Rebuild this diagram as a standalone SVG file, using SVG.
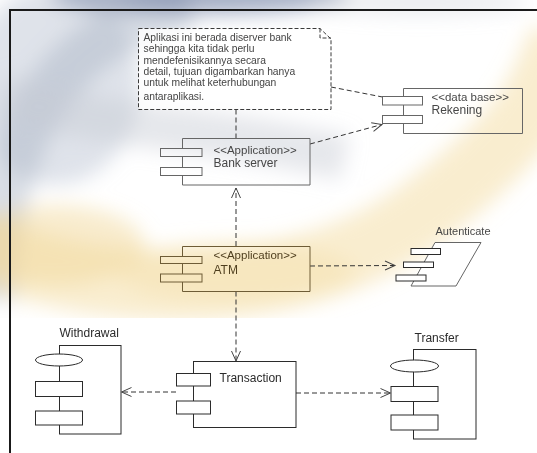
<svg xmlns="http://www.w3.org/2000/svg" width="537" height="453" viewBox="0 0 537 453">
  <defs>
    <style>
      text { font-family: "Liberation Sans", Arial, sans-serif; fill: #2b2b2b; }
      .note-text { font-size: 10.3px; fill: #444; }
      .stereo { font-size: 11.5px; }
      .name { font-size: 12px; }
      .edge { fill: none; stroke: #2b2b2b; stroke-width: 1; }
      .box { fill: #fff; stroke: #2b2b2b; stroke-width: 1; }
      .port { fill: #fff; stroke: #2b2b2b; stroke-width: 1; }
      .port-clear { fill: none; stroke: #2b2b2b; stroke-width: 1; }
      .note { fill: #fff; fill-opacity: 0.8; stroke: #3a3a3a; stroke-width: 1; stroke-dasharray: 4 2; }
      .dep { fill: none; stroke: #333; stroke-width: 1; stroke-dasharray: 5 3; }
      .frame { fill: none; stroke: #1a1a1a; stroke-width: 2; }
      .upper .edge, .upper .port-clear, .upper .box { stroke: #666; }
      .upper text { fill: #474747; }
      .gold .edge, .gold .port-clear { stroke: #6e5c36; }
      .gold text { fill: #4f3f1f; }
    </style>
    <marker id="open-arrow" markerUnits="userSpaceOnUse" markerWidth="12" markerHeight="11" refX="10" refY="5" orient="auto" overflow="visible">
      <path d="M0,0.5 L10,5 L0,9.5" fill="none" stroke="#444" stroke-width="1" stroke-dasharray="none"/>
    </marker>
    <clipPath id="wm-clip">
      <rect x="0" y="0" width="537" height="318"/>
    </clipPath>
    <filter id="soft" x="-30%" y="-30%" width="160%" height="160%">
      <feGaussianBlur stdDeviation="10"/>
    </filter>
  </defs>

  <rect width="537" height="453" fill="#fff"/>

  <!-- faint logo wash behind the upper part of the sheet -->
  <g id="watermark" clip-path="url(#wm-clip)">
    <g filter="url(#soft)">
      <ellipse cx="55" cy="85" rx="85" ry="100" fill="#b9c2d0" opacity="0.45"/>
      <path d="M-10,300 C0,150 40,40 190,4" fill="none" stroke="#a9b4c6" stroke-width="50" opacity="0.45"/>
      <ellipse cx="200" cy="-4" rx="150" ry="18" fill="#5d7098" opacity="0.55"/>
      <path d="M0,95 C80,125 200,125 345,158" fill="none" stroke="#c8cdd5" stroke-width="45" opacity="0.45"/>
      <ellipse cx="420" cy="2" rx="110" ry="12" fill="#c7ccd4" opacity="0.4"/>
      <path d="M-30,245 C100,300 300,305 420,215 S540,90 565,40" fill="none" stroke="#f3dca0" stroke-width="70" opacity="0.5"/>
      <ellipse cx="55" cy="245" rx="90" ry="40" fill="#efd592" opacity="0.45"/>
      <ellipse cx="235" cy="272" rx="120" ry="30" fill="#f5e1aa" opacity="0.45"/>
    </g>
  </g>

  <!-- outer frame -->
  <path class="frame" d="M10,453 V10 H537"/>

  <!-- connectors -->
  <g id="connectors">
    <line class="dep" x1="236" y1="109.5" x2="236" y2="138"/>
    <line class="dep" x1="331" y1="87" x2="382.5" y2="97"/>
    <line class="dep" x1="310" y1="144" x2="382" y2="124.5" marker-end="url(#open-arrow)"/>
    <line class="dep" x1="236" y1="246" x2="236" y2="188" marker-end="url(#open-arrow)"/>
    <line class="dep" x1="236" y1="291.5" x2="236" y2="361" marker-end="url(#open-arrow)"/>
    <line class="dep" x1="310" y1="266" x2="395" y2="265.5" marker-end="url(#open-arrow)"/>
    <line class="dep" x1="176" y1="392" x2="121.5" y2="392" marker-end="url(#open-arrow)"/>
    <line class="dep" x1="296" y1="393" x2="390.5" y2="393" marker-end="url(#open-arrow)"/>
  </g>

  <!-- note -->
  <g id="note">
    <path class="note" d="M138.5,28.5 H320 L331,39 V109.5 H138.5 Z"/>
    <path class="note" style="fill:none" d="M320,28.5 V38 H331"/>
    <text class="note-text" x="143.5" y="40.5">Aplikasi ini berada diserver bank</text>
    <text class="note-text" x="143.5" y="52">sehingga kita tidak perlu</text>
    <text class="note-text" x="143.5" y="64">mendefenisikannya secara</text>
    <text class="note-text" x="143.5" y="75">detail, tujuan digambarkan hanya</text>
    <text class="note-text" x="143.5" y="86">untuk melihat keterhubungan</text>
    <text class="note-text" x="143.5" y="100">antaraplikasi.</text>
  </g>

  <!-- Rekening -->
  <g id="rekening" class="upper">
    <path class="edge" d="M403.5,96.5 V88.5 H522.5 V133.5 H403.5 V123.5 M403.5,105 V115.5"/>
    <rect class="port-clear" x="382.5" y="96.5" width="40" height="8.5"/>
    <rect class="port-clear" x="382.5" y="115.5" width="40" height="8"/>
    <text class="stereo" x="431.5" y="101">&lt;&lt;data base&gt;&gt;</text>
    <text class="name" x="431.5" y="113.5">Rekening</text>
  </g>

  <!-- Bank server -->
  <g id="bank-server" class="upper">
    <path class="edge" d="M182.5,148.5 V138.5 H310 V185 H182.5 V175.5 M182.5,156.5 V167.5"/>
    <rect class="port-clear" x="160.5" y="148.5" width="41.5" height="8"/>
    <rect class="port-clear" x="160.5" y="167.5" width="41.5" height="8"/>
    <text class="stereo" x="213.5" y="153.5">&lt;&lt;Application&gt;&gt;</text>
    <text class="name" x="213.5" y="167">Bank server</text>
  </g>

  <!-- ATM -->
  <g id="atm" class="gold">
    <path class="edge" d="M182.5,256.5 V246.5 H310 V291.5 H182.5 V282 M182.5,263.5 V274"/>
    <rect class="port-clear" x="160.5" y="256.5" width="41.5" height="7"/>
    <rect class="port-clear" x="160.5" y="274" width="41.5" height="8"/>
    <text class="stereo" x="213.5" y="259">&lt;&lt;Application&gt;&gt;</text>
    <text class="name" x="213.5" y="273.5">ATM</text>
  </g>

  <!-- Autenticate -->
  <g id="autenticate" class="upper">
    <path class="box" d="M435,242.5 H481 L456,286 H411 Z"/>
    <rect class="port" x="411" y="248.5" width="29.5" height="6"/>
    <rect class="port" x="403.5" y="262" width="30" height="5.5"/>
    <rect class="port" x="396" y="275" width="30" height="6"/>
    <text style="font-size:11px" x="435.5" y="235">Autenticate</text>
  </g>

  <!-- Transaction -->
  <g id="transaction">
    <rect class="box" x="193.5" y="361.5" width="102.5" height="66"/>
    <rect class="port" x="176.5" y="373.5" width="34" height="12.5"/>
    <rect class="port" x="176.5" y="401" width="34" height="13"/>
    <text class="name" x="219.5" y="382">Transaction</text>
  </g>

  <!-- Withdrawal -->
  <g id="withdrawal">
    <rect class="box" x="59.5" y="345.5" width="61.5" height="88.5"/>
    <ellipse class="port" cx="59" cy="360" rx="23.5" ry="6"/>
    <rect class="port" x="35.5" y="381.5" width="47" height="15"/>
    <rect class="port" x="35.5" y="411" width="47" height="14"/>
    <text class="name" x="59.5" y="337">Withdrawal</text>
  </g>

  <!-- Transfer -->
  <g id="transfer">
    <rect class="box" x="413.5" y="349.5" width="62.5" height="89.5"/>
    <ellipse class="port" cx="414.5" cy="366" rx="24" ry="6"/>
    <rect class="port" x="391" y="386.5" width="47" height="15"/>
    <rect class="port" x="391" y="415" width="47" height="15"/>
    <text class="name" x="414.5" y="342">Transfer</text>
  </g>
</svg>
